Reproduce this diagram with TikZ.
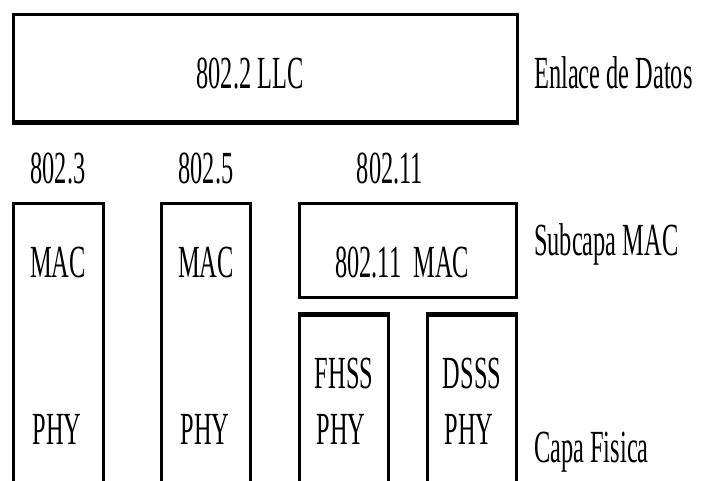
\documentclass[tikz,border=0pt]{standalone}
\usepackage{fontspec}
\setmainfont[FakeStretch=0.53]{Liberation Serif}
\begin{document}
\begin{tikzpicture}[x=1pt,y=-1pt,
  box/.style={draw,line width=2.6pt,rectangle,inner sep=0pt,anchor=north west},
  lbl/.style={anchor=base,inner sep=0pt,font=\fontsize{46}{52}\selectfont},
  rlbl/.style={anchor=base west,inner sep=0pt,font=\fontsize{46}{52}\selectfont},
  thickedge/.style={line width=4pt}]
\clip (0,0) rectangle (703,481);
% boxes
\node[box,minimum width=504pt,minimum height=107pt] (llc) at (12,13) {};
\node[box,minimum width=90pt,minimum height=320pt] (b3) at (12,202) {};
\node[box,minimum width=89pt,minimum height=320pt] (b5) at (160,202) {};
\node[box,minimum width=217pt,minimum height=94pt] (mac11) at (298,202) {};
\node[box,minimum width=89pt,minimum height=200pt] (fh) at (298,314) {};
\node[box,minimum width=89pt,minimum height=200pt] (ds) at (426,314) {};
\draw[thickedge] (llc.south west) -- (llc.south east);
\draw[thickedge] (fh.north west) -- (fh.north east);
\draw[thickedge] (ds.north west) -- (ds.north east);
% labels
\node[lbl] (tllc) at (250,89) {802.2 LLC};
\node[rlbl] (tenl) at (534,89) {Enlace de Datos};
\node[lbl] (t3) at (58,183) {802.3};
\node[lbl] (t5) at (206,183) {802.5};
\node[lbl] (t11) at (390,183) {802.11};
\node[lbl] (m3) at (58,277) {MAC};
\node[lbl] (m5) at (206,277) {MAC};
\node[lbl] (m11) at (402,277) {802.11\ \ MAC};
\node[rlbl] (tsub) at (534,255) {Subcapa MAC};
\node[lbl] (f1) at (344,388) {FHSS};
\node[lbl] (d1) at (472,388) {DSSS};
\node[lbl] (p3) at (57,444) {PHY};
\node[lbl] (p5) at (205,444) {PHY};
\node[lbl] (pf) at (341,444) {PHY};
\node[lbl] (pd) at (469,444) {PHY};
\node[rlbl] (tcapa) at (534,462) {Capa Fisica};
\end{tikzpicture}
\end{document}
